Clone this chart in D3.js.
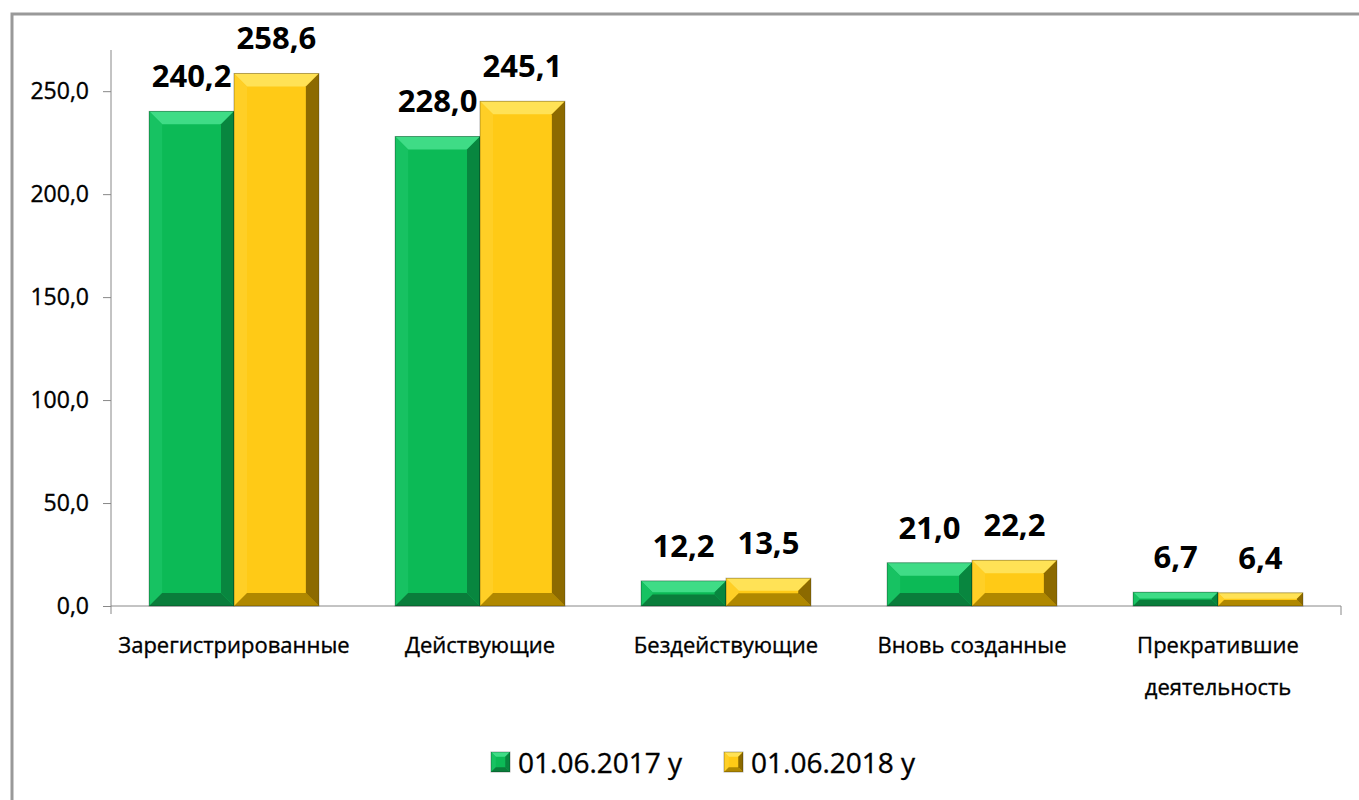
<!DOCTYPE html>
<html>
<head>
<meta charset="utf-8">
<script src="https://cdn.jsdelivr.net/npm/d3@7"></script>
<style>
  body { margin: 0; background: #fff; }
  svg text { font-family: "Open Sans", "Noto Sans", sans-serif; fill: #000; }
  svg text.reg { stroke: #000; stroke-width: 0.35px; }
</style>
</head>
<body>
<div id="chart"></div>
<script>
const categories = [
  ['Зарегистрированные'],
  ['Действующие'],
  ['Бездействующие'],
  ['Вновь созданные'],
  ['Прекратившие', 'деятельность']
];
const seriesNames = ['01.06.2017 у', '01.06.2018 у'];
const values2017 = [240.2, 228.0, 12.2, 21.0, 6.7];
const values2018 = [258.6, 245.1, 13.5, 22.2, 6.4];
const yTicks = [0, 50, 100, 150, 200, 250];

const palettes = [
  { face: '#0cba56', top: '#3fdc86', left: '#17c262', bottom: '#0a7d3b', right: '#08863f' },
  { face: '#ffca16', top: '#ffe256', left: '#ffcf26', bottom: '#b08800', right: '#8c6a00' }
];

const W = 1359, H = 800;
const margin = { top: 50, left: 111, right: 18, bottom: 194 };
const width = W - margin.left - margin.right;
const height = H - margin.top - margin.bottom;

const svg = d3.select('#chart').append('svg')
  .attr('width', W).attr('height', H);

// outer frame of the chart area
svg.append('rect')
  .attr('x', 12).attr('y', 14)
  .attr('width', W + 20).attr('height', H + 20)
  .attr('fill', 'none').attr('stroke', '#999').attr('stroke-width', 3);

const chart = svg.append('g')
  .attr('transform', `translate(${margin.left},${margin.top})`);

const x = d3.scaleBand()
  .domain(d3.range(categories.length))
  .range([0, width])
  .paddingInner(0.31).paddingOuter(0.155);

const xs = d3.scaleBand()
  .domain([0, 1])
  .range([0, x.bandwidth()]);

const y = d3.scaleLinear()
  .domain([0, 270])
  .range([height, 0]);

const fmt = v => d3.format('.1f')(v).replace('.', ',');

// y axis
const yAxis = d3.axisLeft(y).tickValues(yTicks).tickFormat(fmt).tickSize(8).tickPadding(14);
const ya = chart.append('g').call(yAxis);
ya.select('.domain').attr('stroke', '#888').attr('d', `M0,${height + 8}V0`);
ya.selectAll('.tick line').attr('stroke', '#888');
ya.selectAll('.tick text').attr('class', 'reg').style('font-size', '23px').attr('fill', '#000');

// x axis with separators between categories
const xa = chart.append('g').attr('transform', `translate(0,${height})`);
xa.append('line').attr('x1', 0).attr('x2', width).attr('stroke', '#888');
const step = x.step();
xa.selectAll('.sep')
  .data(d3.range(1, categories.length + 1))
  .join('line')
  .attr('x1', d => x(0) - x.paddingOuter() * step + d * step)
  .attr('x2', d => x(0) - x.paddingOuter() * step + d * step)
  .attr('y1', 0).attr('y2', d => d === categories.length ? 9 : 0)
  .attr('stroke', '#888');

xa.selectAll('.cat')
  .data(categories)
  .join('text')
  .attr('class', 'reg')
  .attr('text-anchor', 'middle')
  .attr('transform', (d, i) => `translate(${x(i) + x.bandwidth() / 2},47)`)
  .style('font-size', '22px')
  .selectAll('tspan')
  .data(d => d)
  .join('tspan')
  .attr('x', 0)
  .attr('dy', (d, j) => j === 0 ? 0 : 42)
  .text(d => d);

// bars with bevel
const series = [values2017, values2018];
function bevelBar(g, x0, y0, w, h, p, bmax) {
  const b = Math.min(bmax || 13, h / 2.2, w / 4);
  g.append('rect').attr('x', x0).attr('y', y0).attr('width', w).attr('height', h).attr('fill', p.face);
  const pts = (a) => a.map(q => q.join(',')).join(' ');
  g.append('polygon').attr('points', pts([[x0, y0], [x0 + w, y0], [x0 + w - b, y0 + b], [x0 + b, y0 + b]])).attr('fill', p.top);
  g.append('polygon').attr('points', pts([[x0, y0], [x0 + b, y0 + b], [x0 + b, y0 + h - b], [x0, y0 + h]])).attr('fill', p.left);
  g.append('polygon').attr('points', pts([[x0, y0 + h], [x0 + b, y0 + h - b], [x0 + w - b, y0 + h - b], [x0 + w, y0 + h]])).attr('fill', p.bottom);
  g.append('polygon').attr('points', pts([[x0 + w, y0], [x0 + w, y0 + h], [x0 + w - b, y0 + h - b], [x0 + w - b, y0 + b]])).attr('fill', p.right);
  g.append('rect').attr('x', x0).attr('y', y0).attr('width', w).attr('height', h)
    .attr('fill', 'none').attr('stroke', 'rgba(0,0,0,0.3)').attr('stroke-width', 1);
}

series.forEach((vals, s) => {
  vals.forEach((v, i) => {
    const g = chart.append('g');
    const bx = x(i) + xs(s);
    bevelBar(g, bx, y(v), xs.bandwidth(), height - y(v), palettes[s]);
  });
});

// value labels
series.forEach((vals, s) => {
  chart.selectAll(`.lbl${s}`)
    .data(vals)
    .join('text')
    .attr('x', (v, i) => x(i) + xs(s) + xs.bandwidth() / 2)
    .attr('y', v => y(v) - 24)
    .attr('text-anchor', 'middle')
    .style('font-size', '31px')
    .style('font-weight', 'bold')
    .text(fmt);
});

// legend
const legend = svg.append('g').attr('transform', 'translate(491,752)');
const legendX = [0, 233];
seriesNames.forEach((name, s) => {
  const lg = legend.append('g').attr('transform', `translate(${legendX[s]},0)`);
  bevelBar(lg, 0, 0, 19, 20, palettes[s], 7);
  lg.append('text').attr('class', 'reg').attr('x', 27).attr('y', 21)
    .style('font-size', '28px').text(name);
});
</script>
</body>
</html>
